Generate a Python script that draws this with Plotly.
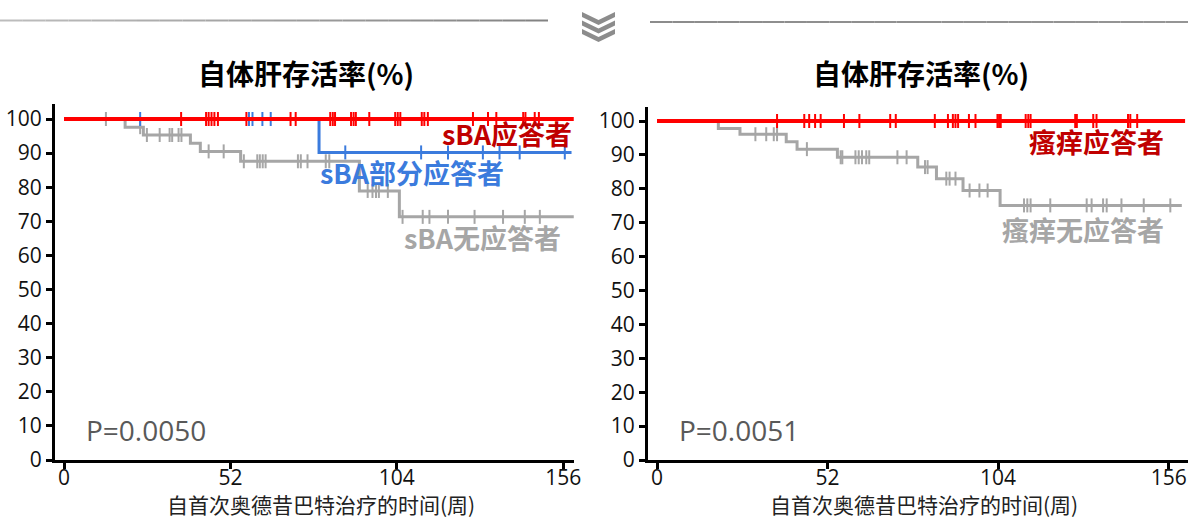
import numpy as np
import plotly.graph_objects as go

W, H = 1188, 518

# ---------------- data: left panel (grouped by sBA response) ----------------
sba_resp_t = [0]
sba_resp_s = [100]
sba_resp_end = 159.3
sba_resp_cens = [36.6, 44.4, 45.2, 46.1, 47.0, 48.1, 57.0, 70.8, 72.4, 83.2, 84.0, 84.7,
                 89.7, 90.5, 91.2, 95.4, 103.5, 104.3, 105.1, 111.8, 112.6, 113.7, 127.8,
                 132.5, 135.1, 143.5, 144.2, 147.1, 148.4]

sba_part_t = [0, 79.7]
sba_part_s = [100, 90.2]
sba_part_end = 158.6
sba_part_cens = [23.8, 57.8, 58.9, 62.0, 64.6, 87.9, 111.6, 120.0, 130.9, 136.1, 142.4, 156.5]

sba_none_t = [0, 19.1, 24.8, 39.5, 42.6, 55.2, 92.3, 104.8]
sba_none_s = [100, 97.6, 95.3, 92.9, 90.5, 87.6, 78.9, 71.3]
sba_none_end = 159.3
sba_none_cens = [13.1, 23.8, 25.9, 29.9, 33.0, 33.8, 35.8, 36.7, 45.2, 49.9, 56.2, 60.4, 61.2,
                 62.1, 63.0, 73.1, 74.0, 76.1, 81.8, 82.9, 94.9, 96.4, 97.5, 98.4, 101.2,
                 105.8, 112.1, 114.2, 120.0, 128.3, 137.2, 144.0, 148.7]

# ---------------- data: right panel (grouped by pruritus response) ----------------
itch_resp_t = [0]
itch_resp_s = [100]
itch_resp_end = 161.0
itch_resp_cens = [36.6, 44.9, 46.4, 48.2, 49.9, 57.0, 61.7, 71.1, 72.8, 84.7, 88.7, 90.2, 91.0,
                  91.8, 95.1, 97.1, 103.8, 104.3, 104.8, 112.4, 113.2, 113.9, 127.5, 128.0,
                  133.0, 134.0, 143.6, 144.3, 146.4]

itch_none_t = [0, 18.7, 25.3, 39.4, 42.7, 55.0, 79.5, 85.2, 93.3, 104.6]
itch_none_s = [100, 97.8, 96.1, 93.9, 91.7, 89.3, 86.4, 83.0, 79.5, 75.1]
itch_none_end = 160.0
itch_none_cens = [30.0, 33.3, 35.6, 36.6, 45.7, 56.0, 56.5, 60.5, 61.5, 62.5, 63.8, 64.7, 73.3,
                  76.1, 81.7, 82.5, 88.2, 89.2, 91.0, 95.3, 98.3, 100.8, 111.9, 112.9, 113.9,
                  119.9, 131.0, 132.5, 136.0, 137.1, 141.6, 148.4, 156.5]

x_ticks = [0, 52, 104, 156]
y_ticks = list(range(0, 101, 10))
p_left, p_right = "P=0.0050", "P=0.0051"
panel_title = "自体肝存活率(%)"
x_title = "自首次奥德昔巴特治疗的时间(周)"

RED, BLUE, GREY = "#FF0000", "#3B7BDD", "#A6A6A6"
LABEL_RED = "#C00000"
FONT = "Open Sans, Noto Sans CJK SC, sans-serif"
CJK = "Noto Sans CJK SC, sans-serif"


def px(x):
    return x / W


def py(y):
    return 1 - y / H


def km_traces(t, s, end, cens, color, width, xa, ya):
    t = np.asarray(t, float)
    s = np.asarray(s, float)
    xs = np.append(t, end)
    ys = np.append(s, s[-1])
    cens = np.asarray(cens, float)
    cy = s[np.searchsorted(t, cens, side="right") - 1]
    line = go.Scatter(x=xs, y=ys, mode="lines", line=dict(color=color, width=width, shape="hv"),
                      xaxis=xa, yaxis=ya, showlegend=False, hoverinfo="skip")
    marks = go.Scatter(x=cens, y=cy, mode="markers",
                       marker=dict(symbol="line-ns", size=10, color=color,
                                   line=dict(color=color, width=2)),
                       xaxis=xa, yaxis=ya, showlegend=False, hoverinfo="skip")
    return [line, marks]


fig = go.Figure()
for tr in (km_traces(sba_none_t, sba_none_s, sba_none_end, sba_none_cens, GREY, 3, "x", "y")
           + km_traces(sba_part_t, sba_part_s, sba_part_end, sba_part_cens, BLUE, 3, "x", "y")
           + km_traces(sba_resp_t, sba_resp_s, sba_resp_end, sba_resp_cens, RED, 4, "x", "y")
           + km_traces(itch_none_t, itch_none_s, itch_none_end, itch_none_cens, GREY, 3, "x2", "y2")
           + km_traces(itch_resp_t, itch_resp_s, itch_resp_end, itch_resp_cens, RED, 4, "x2", "y2")):
    fig.add_trace(tr)

axis_common = dict(showline=True, linecolor="black", linewidth=3, ticks="outside",
                   ticklen=6, tickwidth=2.5, tickcolor="black", showgrid=False, zeroline=False,
                   automargin=False, ticklabeloverflow="allow",
                   tickfont=dict(family=FONT, size=21, color="#111"))
x_extra = dict(ticklabelstandoff=-9)

# pixel geometry of the two plotting areas
L_X0, L_X1, R_X0, R_X1 = 55, 574, 648, 1188
Y0 = 460
L_SCALE, R_SCALE = 3.2, 3.28   # px per week

fig.update_layout(
    width=W, height=H, margin=dict(l=0, r=0, t=0, b=0),
    paper_bgcolor="white", plot_bgcolor="white",
    xaxis=dict(domain=[px(L_X0), px(L_X1)], range=[(L_X0 - 64) / L_SCALE, (L_X1 - 64) / L_SCALE],
               anchor="y", tickvals=x_ticks, **axis_common, **x_extra),
    yaxis=dict(domain=[py(Y0), py(104)], range=[0, (Y0 - 104) / 3.41], anchor="x",
               tickvals=y_ticks, **axis_common),
    xaxis2=dict(domain=[px(R_X0), 1.0], range=[(R_X0 - 657) / R_SCALE, (R_X1 - 657) / R_SCALE],
                anchor="y2", tickvals=x_ticks, **axis_common, **x_extra),
    yaxis2=dict(domain=[py(Y0), py(107)], range=[0, (Y0 - 107) / 3.39], anchor="x2",
                tickvals=y_ticks, **axis_common),
)

ann = []


def text(x, y, s, size, color, bold=False, xanchor="center", family=CJK):
    ann.append(dict(x=px(x), y=py(y), xref="paper", yref="paper", text=f"<b>{s}</b>" if bold else s,
                    showarrow=False, xanchor=xanchor, yanchor="middle",
                    font=dict(family=family, size=size, color=color)))


# panel titles and axis titles
text(306, 73, panel_title, 28, "#000", bold=True)
text(921, 73, panel_title, 28, "#000", bold=True)
text(321, 504, x_title, 21, "#222")
text(924, 504, x_title, 21, "#222")

# group labels
text(574, 133, "sBA应答者", 27, LABEL_RED, bold=True, xanchor="right")
text(318, 172, "sBA部分应答者", 27, BLUE, bold=True, xanchor="left")
text(402, 238, "sBA无应答者", 27, GREY, bold=True, xanchor="left")
text(1166, 141, "瘙痒应答者", 27, LABEL_RED, bold=True, xanchor="right")
text(1166, 229, "瘙痒无应答者", 27, GREY, bold=True, xanchor="right")

# log-rank p-values
text(84, 430, p_left, 28, "#595959", xanchor="left", family=FONT)
text(677, 430, p_right, 28, "#595959", xanchor="left", family=FONT)

fig.update_layout(annotations=ann)

# header divider lines with a soft gradient
shapes = []


def grad_line(x0, x1, y, c0, c1, n=24):
    c0 = np.array(c0, float)
    c1 = np.array(c1, float)
    for i in range(n):
        a, b = x0 + (x1 - x0) * i / n, x0 + (x1 - x0) * (i + 1) / n
        c = c0 + (c1 - c0) * (i + 0.5) / n
        shapes.append(dict(type="line", xref="paper", yref="paper", x0=px(a), x1=px(b),
                           y0=py(y), y1=py(y),
                           line=dict(color=f"rgb({int(c[0])},{int(c[1])},{int(c[2])})", width=2)))


grad_line(0, 548, 20.5, (190, 190, 190), (130, 130, 130))
grad_line(650, 1188, 22, (140, 140, 140), (150, 150, 150))

# stacked chevron icon
for k in range(3):
    top = 12 + k * 8.5
    path = (f"M {px(582)} {py(top)} L {px(598.5)} {py(top + 8)} L {px(615)} {py(top)} "
            f"L {px(615)} {py(top + 5)} L {px(598.5)} {py(top + 13)} L {px(582)} {py(top + 5)} Z")
    shapes.append(dict(type="path", xref="paper", yref="paper", path=path,
                       fillcolor="#8C8C8C", line=dict(width=0)))

fig.update_layout(shapes=shapes)

fig.write_html("out.html")
